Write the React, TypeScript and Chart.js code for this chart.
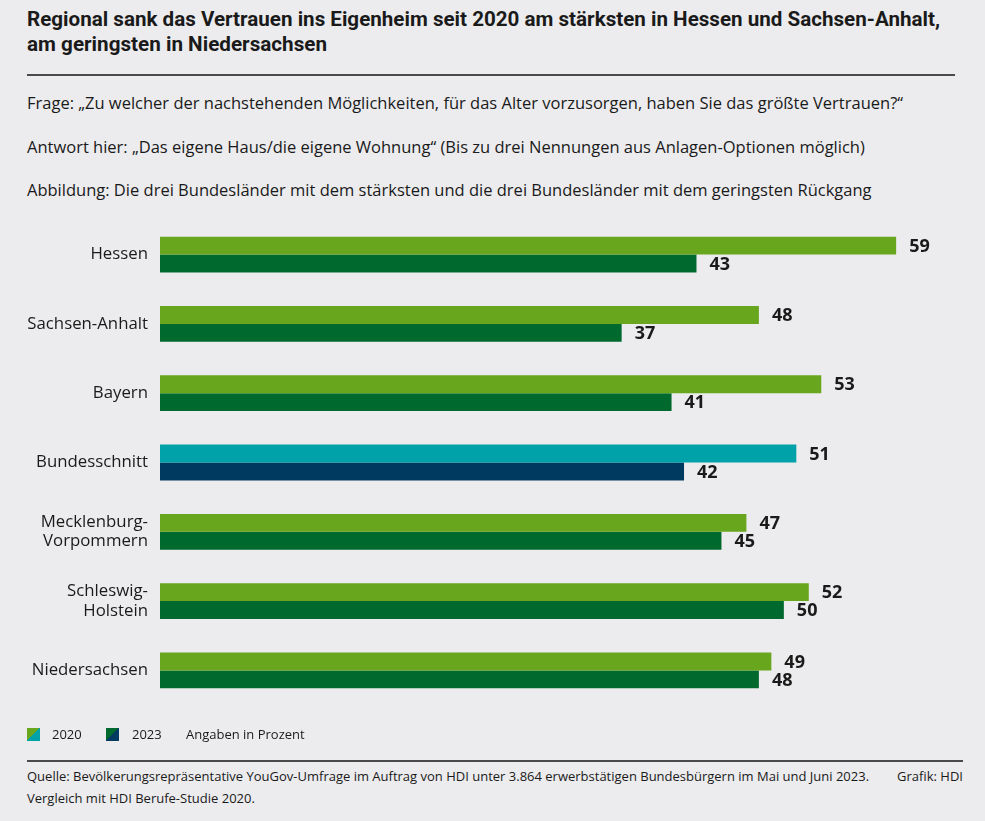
import React, { useEffect, useLayoutEffect, useRef } from "react";
import { Chart, registerables } from "chart.js";
Chart.register(...registerables);

const categories: (string | string[])[] = [
  "Hessen",
  "Sachsen-Anhalt",
  "Bayern",
  "Bundesschnitt",
  ["Mecklenburg-", "Vorpommern"],
  ["Schleswig-", "Holstein"],
  "Niedersachsen",
];
const values2020 = [59, 48, 53, 51, 47, 52, 49];
const values2023 = [43, 37, 41, 42, 45, 50, 48];
const colors2020 = ["#68a61e", "#68a61e", "#68a61e", "#00a2aa", "#68a61e", "#68a61e", "#68a61e"];
const colors2023 = ["#006a2e", "#006a2e", "#006a2e", "#003a60", "#006a2e", "#006a2e", "#006a2e"];

const BG = "#ececee";
const TEXT = "#1a1a1a";
const BODY_FONT = "'Open Sans', 'Noto Sans', sans-serif";
const TITLE_FONT = "Roboto, 'Open Sans', sans-serif";

const valueLabels = {
  id: "valueLabels",
  afterDatasetsDraw(chart: any) {
    const ctx = chart.ctx;
    ctx.save();
    ctx.font = `bold 18px ${BODY_FONT}`;
    ctx.fillStyle = TEXT;
    ctx.textAlign = "left";
    ctx.textBaseline = "middle";
    chart.data.datasets.forEach((ds: any, di: number) => {
      const meta = chart.getDatasetMeta(di);
      meta.data.forEach((bar: any, i: number) => {
        ctx.fillText(String(ds.data[i]), bar.x + 13, bar.y + 1);
      });
    });
    ctx.restore();
  },
};

function BarChart() {
  const ref = useRef<HTMLCanvasElement>(null);
  useEffect(() => {
    const chart = new Chart(ref.current!, {
      type: "bar",
      data: {
        labels: categories as any,
        datasets: [
          { label: "2020", data: values2020, backgroundColor: colors2020, categoryPercentage: 0.517, barPercentage: 1 },
          { label: "2023", data: values2023, backgroundColor: colors2023, categoryPercentage: 0.517, barPercentage: 1 },
        ],
      },
      options: {
        indexAxis: "y",
        animation: false,
        responsive: false,
        maintainAspectRatio: false,
        layout: { padding: { top: 9, bottom: 14, right: 14, left: 0 } },
        plugins: { legend: { display: false }, tooltip: { enabled: false } },
        scales: {
          x: { display: false, min: 0, max: 65 },
          y: {
            grid: { display: false, drawTicks: false },
            border: { display: false },
            ticks: { padding: 12, color: TEXT, font: { family: BODY_FONT, size: 16.8, lineHeight: 1.18 } },
            afterFit: (scale: any) => {
              scale.width = 160;
            },
          },
        },
      },
      plugins: [valueLabels],
    });
    return () => chart.destroy();
  }, []);
  return <canvas ref={ref} width={985} height={529} style={{ position: "absolute", left: 0, top: 198, width: 985, height: 529 }} />;
}

function FitLine({ text, width }: { text: string; width: number }) {
  const ref = useRef<HTMLSpanElement>(null);
  useLayoutEffect(() => {
    const el = ref.current!;
    el.style.transform = "none";
    const w = el.getBoundingClientRect().width;
    if (w > 0) el.style.transform = `scaleX(${width / w})`;
  }, [text, width]);
  return (
    <span ref={ref} style={{ display: "inline-block", transformOrigin: "left center", whiteSpace: "nowrap" }}>
      {text}
    </span>
  );
}

export default function App() {
  const abs = (top: number, left: number, extra: React.CSSProperties = {}): React.CSSProperties => ({
    position: "absolute",
    top,
    left,
    whiteSpace: "nowrap",
    ...extra,
  });
  return (
    <div style={{ position: "fixed", left: 0, top: 0, width: 985, height: 821, background: BG, color: TEXT, fontFamily: BODY_FONT, overflow: "hidden" }}>
      <div style={abs(7, 27, { fontFamily: TITLE_FONT, fontWeight: "bold", fontSize: 21, lineHeight: "25px" })}>
        <FitLine text="Regional sank das Vertrauen ins Eigenheim seit 2020 am stärksten in Hessen und Sachsen-Anhalt," width={913} />
      </div>
      <div style={abs(32, 27, { fontFamily: TITLE_FONT, fontWeight: "bold", fontSize: 21, lineHeight: "25px" })}>
        <FitLine text="am geringsten in Niedersachsen" width={300} />
      </div>
      <div style={abs(74, 27, { width: 928, height: 1.5, background: "#4a4a4a" })} />
      <div style={abs(92, 27, { fontSize: 16.5, lineHeight: "22px" })}>
        Frage: „Zu welcher der nachstehenden Möglichkeiten, für das Alter vorzusorgen, haben Sie das größte Vertrauen?“
      </div>
      <div style={abs(136, 27, { fontSize: 16.5, lineHeight: "22px" })}>
        Antwort hier: „Das eigene Haus/die eigene Wohnung“ (Bis zu drei Nennungen aus Anlagen-Optionen möglich)
      </div>
      <div style={abs(179, 27, { fontSize: 16.5, lineHeight: "22px" })}>
        Abbildung: Die drei Bundesländer mit dem stärksten und die drei Bundesländer mit dem geringsten Rückgang
      </div>
      <BarChart />
      <div style={abs(728, 27, { width: 13, height: 13, background: "linear-gradient(135deg, #68a61e 50%, #00a2aa 50%)" })} />
      <div style={abs(725, 52, { fontSize: 13, lineHeight: "18px" })}>2020</div>
      <div style={abs(728, 106, { width: 13, height: 13, background: "linear-gradient(135deg, #006a2e 50%, #003a60 50%)" })} />
      <div style={abs(725, 132, { fontSize: 13, lineHeight: "18px" })}>2023</div>
      <div style={abs(725, 186, { fontSize: 13, lineHeight: "18px" })}>Angaben in Prozent</div>
      <div style={abs(760, 27, { width: 936, height: 1.5, background: "#4a4a4a" })} />
      <div style={abs(765, 27, { fontSize: 13, lineHeight: "22px" })}>
        Quelle: Bevölkerungsrepräsentative YouGov-Umfrage im Auftrag von HDI unter 3.864 erwerbstätigen Bundesbürgern im Mai und Juni 2023.
        <br />
        Vergleich mit HDI Berufe-Studie 2020.
      </div>
      <div style={{ position: "absolute", top: 765, right: 22, fontSize: 13, lineHeight: "22px", whiteSpace: "nowrap" }}>Grafik: HDI</div>
    </div>
  );
}
